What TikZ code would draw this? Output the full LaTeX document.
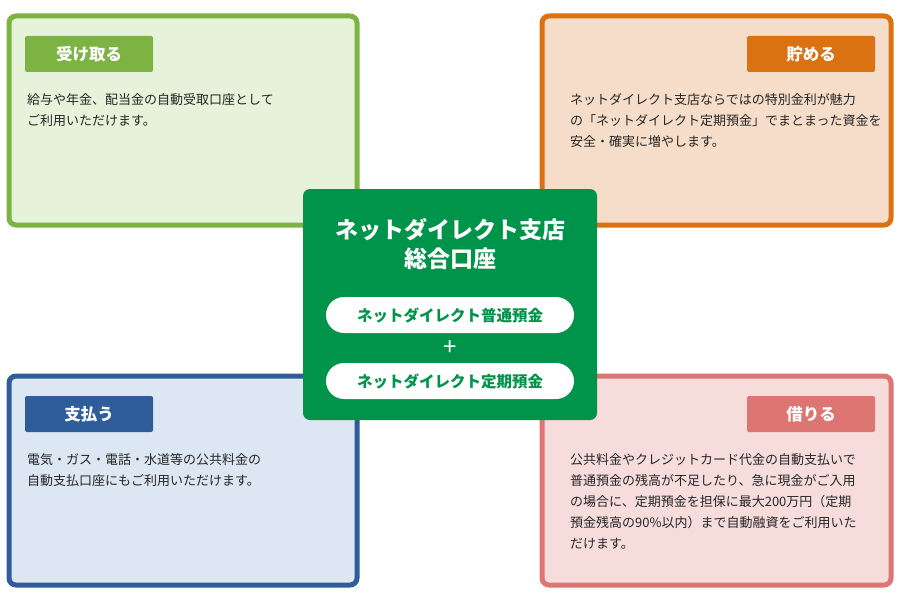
\documentclass[tikz,border=0pt]{standalone}
\usepackage{fontspec}
\setmainfont{Noto Sans CJK JP}
\definecolor{gA}{HTML}{7CB342}\definecolor{gAf}{HTML}{E7F2DA}
\definecolor{oA}{HTML}{DA7212}\definecolor{oAf}{HTML}{F6DDC9}
\definecolor{bA}{HTML}{2F5D9A}\definecolor{bAf}{HTML}{DCE7F3}
\definecolor{pA}{HTML}{DD7573}\definecolor{pAf}{HTML}{F7DCDC}
\definecolor{cG}{HTML}{00934A}
\tikzset{
 card/.style={line width=5pt,rounded corners=7pt},
 tag/.style={minimum width=128pt,minimum height=36pt,rounded corners=2pt,text=white,font=\fontsize{16.5}{18}\selectfont\bfseries,inner sep=0pt},
 body/.style={anchor=north west,align=left,font=\fontsize{13}{21}\selectfont,inner sep=0pt,text=black!85},
 pill/.style={fill=white,rounded corners=18pt,minimum width=248pt,minimum height=36pt,text=cG,font=\fontsize{15.5}{17}\selectfont\bfseries,inner sep=0pt}
}
\begin{document}
\begin{tikzpicture}[x=1pt,y=-1pt]
\useasboundingbox (0,0) rectangle (900,610);
\draw[card,draw=gA,fill=gAf] (9,16) rectangle (357,225);
\draw[card,draw=oA,fill=oAf] (542,16) rectangle (891,225);
\draw[card,draw=bA,fill=bAf] (9,376) rectangle (357,585);
\draw[card,draw=pA,fill=pAf] (542,376) rectangle (891,585);
\node[tag,fill=gA] (t1) at (89,54) {受け取る};
\node[tag,fill=oA] (t2) at (811,54) {貯める};
\node[tag,fill=bA] (t3) at (89,414) {支払う};
\node[tag,fill=pA] (t4) at (811,414) {借りる};
\node[body] (b1) at (27,93) {給与や年金、配当金の自動受取口座として\\ご利用いただけます。};
\node[body] (b2) at (570,93) {ネットダイレクト支店ならではの特別金利が魅力\\の「ネットダイレクト定期預金」でまとまった資金を\\安全・確実に増やします。};
\node[body] (b3) at (27,453) {電気・ガス・電話・水道等の公共料金の\\自動支払口座にもご利用いただけます。};
\node[body] (b4) at (570,453) {公共料金やクレジットカード代金の自動支払いで\\普通預金の残高が不足したり、急に現金がご入用\\の場合に、定期預金を担保に最大200万円（定期\\預金残高の90\%以内）まで自動融資をご利用いた\\だけます。};
\fill[cG,rounded corners=7pt] (303,189) rectangle (597,420);
\node[text=white,align=center,font=\fontsize{23}{29}\selectfont\bfseries] (c) at (450,244) {ネットダイレクト支店\\総合口座};
\node[pill] (p1) at (450,315) {ネットダイレクト普通預金};
\node[text=white,font=\fontsize{24}{24}\selectfont] (pl) at (450,348) {+};
\node[pill] (p2) at (450,381) {ネットダイレクト定期預金};
\end{tikzpicture}
\end{document}
